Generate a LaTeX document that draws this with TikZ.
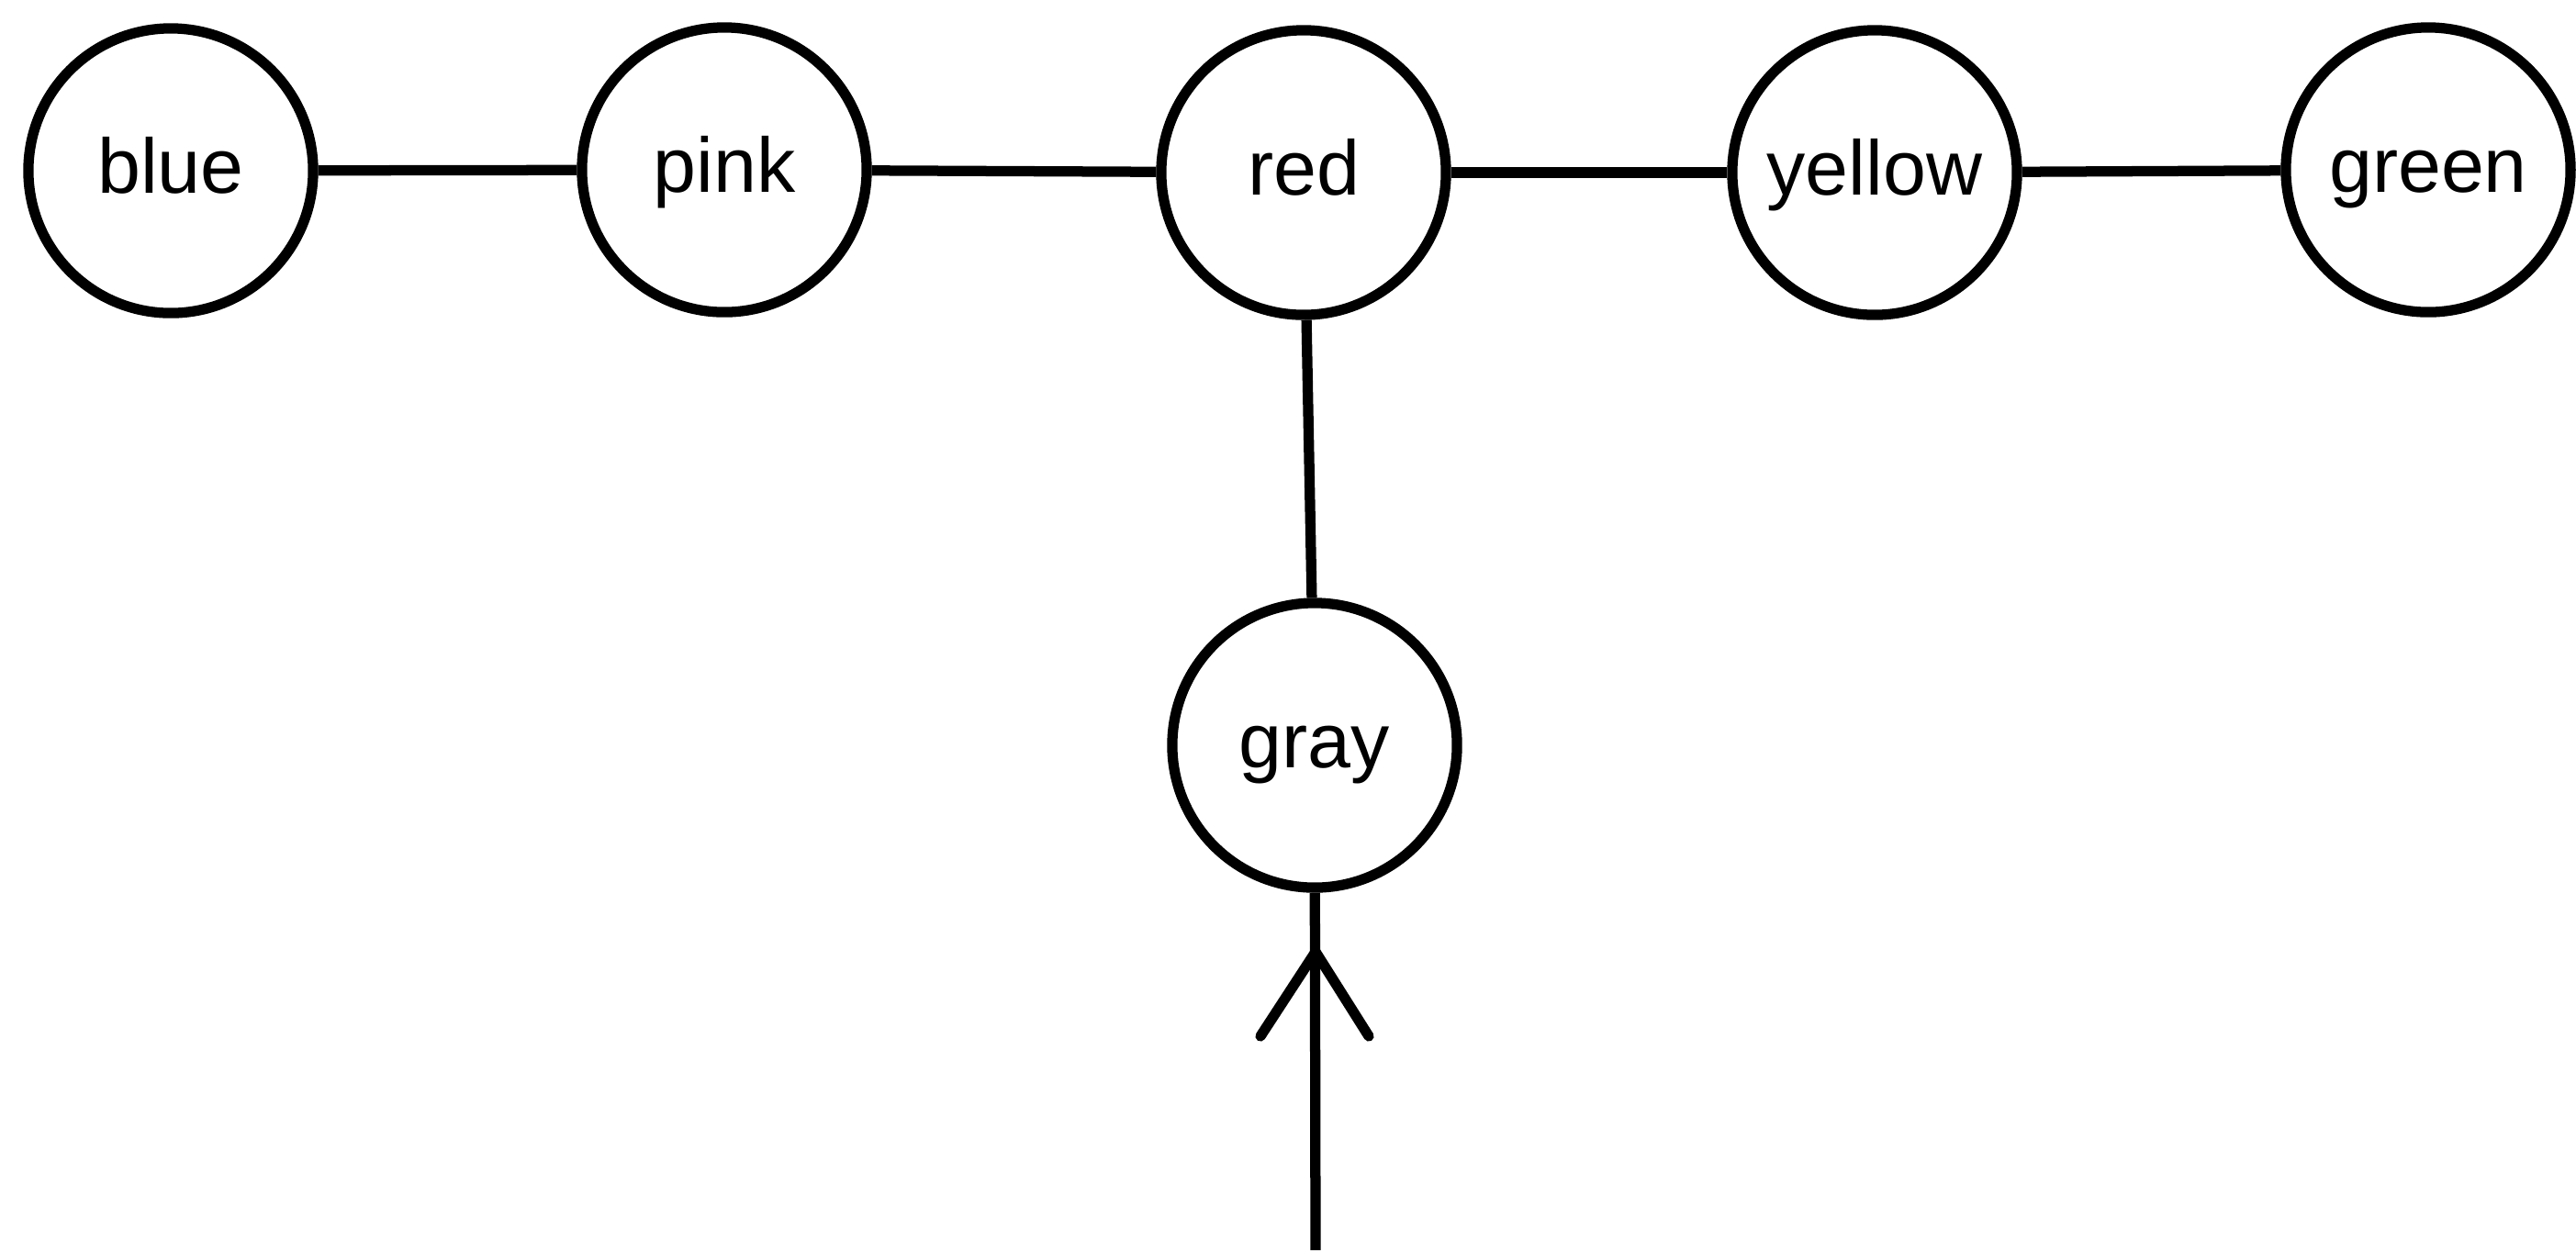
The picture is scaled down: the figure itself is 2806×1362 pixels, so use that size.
\documentclass[tikz,border=0pt]{standalone}
\usepackage{fontspec}
\setmainfont{Liberation Sans}
\begin{document}
\begin{tikzpicture}[x=0.01cm,y=-0.01cm,
  colnode/.style={circle,draw=black,line width=3.2pt,minimum size=3.1cm,inner sep=0pt,
    text height=17pt,text depth=3.3pt,font=\fontsize{24}{27}\selectfont},
  link/.style={line width=3.2pt}]
\useasboundingbox (0,0) rectangle (2806,1362);
\node[colnode] (blue) at (186,186) {blue};
\node[colnode] (pink) at (789,185) {pink};
\node[colnode] (red) at (1420,188) {red};
\node[colnode] (yellow) at (2042,188) {yellow};
\node[colnode] (green) at (2645,185) {green};
\node[colnode] (gray) at (1432,812) {gray};
\draw[link] (blue) -- (pink);
\draw[link] (pink) -- (red);
\draw[link] (red) -- (yellow);
\draw[link] (yellow) -- (green);
\draw[link] (red) -- (gray);
\coordinate (bot) at (1433,1362);
\coordinate (tip) at (1433,1037);
\draw[link] (bot) -- (gray);
\draw[link,line cap=round,line join=miter] (tip) ++(-60,92) -- (tip) -- ++(58,92);
\end{tikzpicture}
\end{document}
